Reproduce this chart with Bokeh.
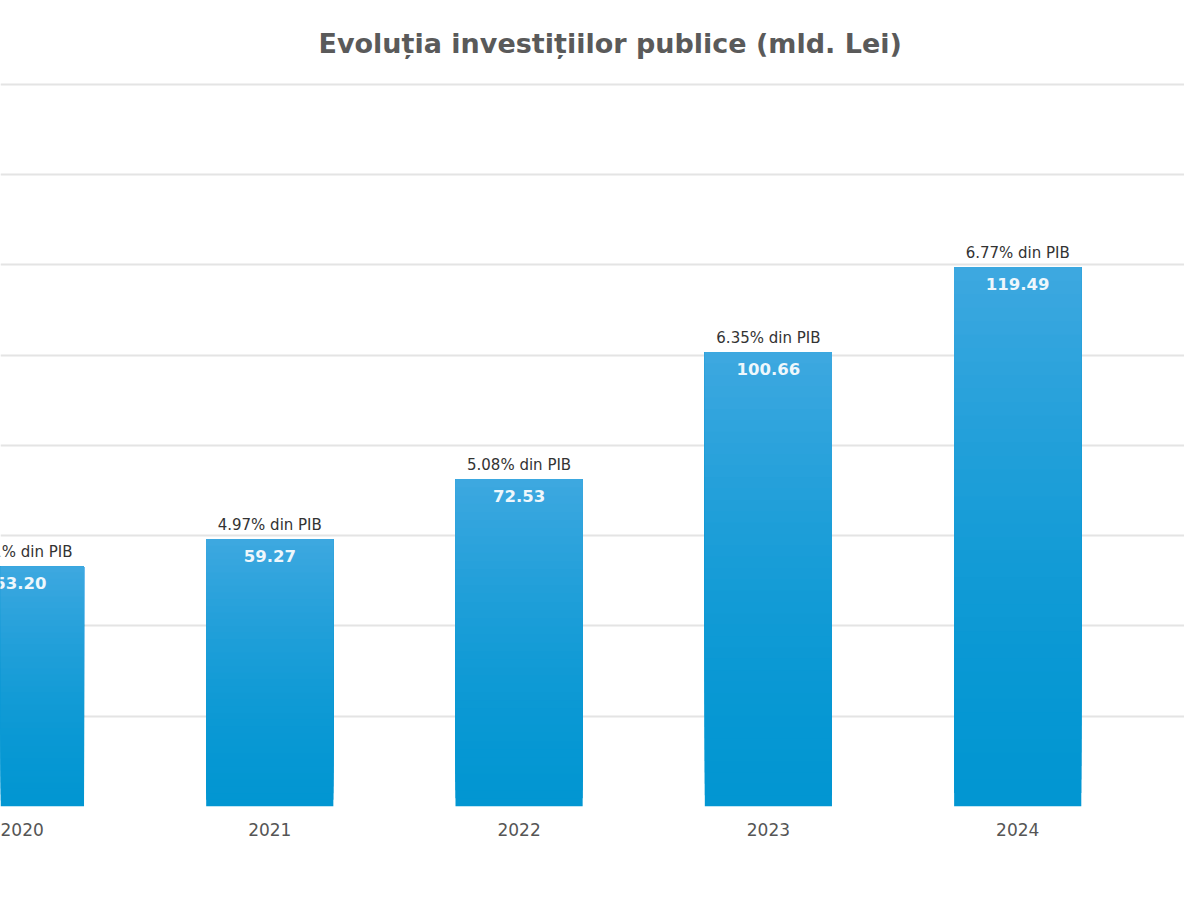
from bokeh.models import ColumnDataSource, FixedTicker, Range1d
from bokeh.plotting import figure
from bokeh.embed import file_html
from bokeh.resources import INLINE
from bokeh.core.properties import value

# data
years = ["2020", "2021", "2022", "2023", "2024"]
invest = [53.20, 59.27, 72.53, 100.66, 119.49]
pct_pib = ["5.01%", "4.97%", "5.08%", "6.35%", "6.77%"]

x = list(range(len(years)))

p = figure(width=1184, height=884, output_backend="svg", toolbar_location=None,
           x_range=Range1d(-0.080, 4.669), y_range=Range1d(0, 163.1),
           min_border_left=0, min_border_right=0, min_border_top=70, min_border_bottom=78)

# the source image is cropped a little off-centre, so the title sits right of the middle
p.title.text = "Evoluția investițiilor publice (mld. Lei)"
p.title.align = "left"
p.title.offset = 318
p.title.text_font = "DejaVu Sans"
p.title.text_font_size = "27px"
p.title.text_font_style = "bold"
p.title.text_color = "#5a5a5a"
p.title.standoff = 24

p.outline_line_color = None
p.background_fill_color = "white"
p.border_fill_color = "white"

# bars with a vertical gradient: overlapping slices, each one covering the part above it
N = 40
top_rgb = (0x3e, 0xa8, 0xe0)
bot_rgb = (0x02, 0x96, 0xd2)
bx, bb, bt, bc = [], [], [], []
for i, v in zip(x, invest):
    for k in range(N):
        f = (k + 0.5) / N
        r, g, b = (int(round(bot_rgb[j] + (top_rgb[j] - bot_rgb[j]) * f ** 1.6)) for j in range(3))
        bx.append(i)
        bb.append(v * k / N)
        bt.append(v)
        bc.append("#%02x%02x%02x" % (r, g, b))
bars = ColumnDataSource(data=dict(x=bx, bottom=bb, top=bt, color=bc))
p.vbar(x="x", bottom="bottom", top="top", width=0.51, source=bars,
       fill_color="color", line_color=None)

labels = ColumnDataSource(data=dict(
    x=x, y=invest,
    val=["%.2f" % v for v in invest],
    pct=[s + " din PIB" for s in pct_pib],
))
p.text(x="x", y="y", text="pct", source=labels, text_align="center", text_baseline="middle",
       y_offset=-14, text_font=value("DejaVu Sans"), text_font_size="15px", text_color="#333333")
p.text(x="x", y="y", text="val", source=labels, text_align="center", text_baseline="middle",
       y_offset=17, text_font=value("DejaVu Sans"), text_font_size="16.5px", text_font_style="bold",
       text_color="#eef7fc")

p.yaxis.visible = False
p.ygrid.ticker = FixedTicker(ticks=[0, 20, 40, 60, 80, 100, 120, 140, 160])
p.ygrid.grid_line_color = "#e4e4e4"
p.ygrid.grid_line_width = 2
p.xgrid.grid_line_color = None

p.xaxis.ticker = FixedTicker(ticks=x)
p.xaxis.major_label_overrides = {i: y for i, y in zip(x, years)}
p.xaxis.axis_line_color = None
p.xaxis.major_tick_line_color = None
p.xaxis.minor_tick_line_color = None
p.xaxis.major_label_standoff = 10
p.xaxis.major_label_text_font = "DejaVu Sans"
p.xaxis.major_label_text_font_size = "17px"
p.xaxis.major_label_text_color = "#555555"

open("out.html", "w").write(file_html(p, INLINE))
